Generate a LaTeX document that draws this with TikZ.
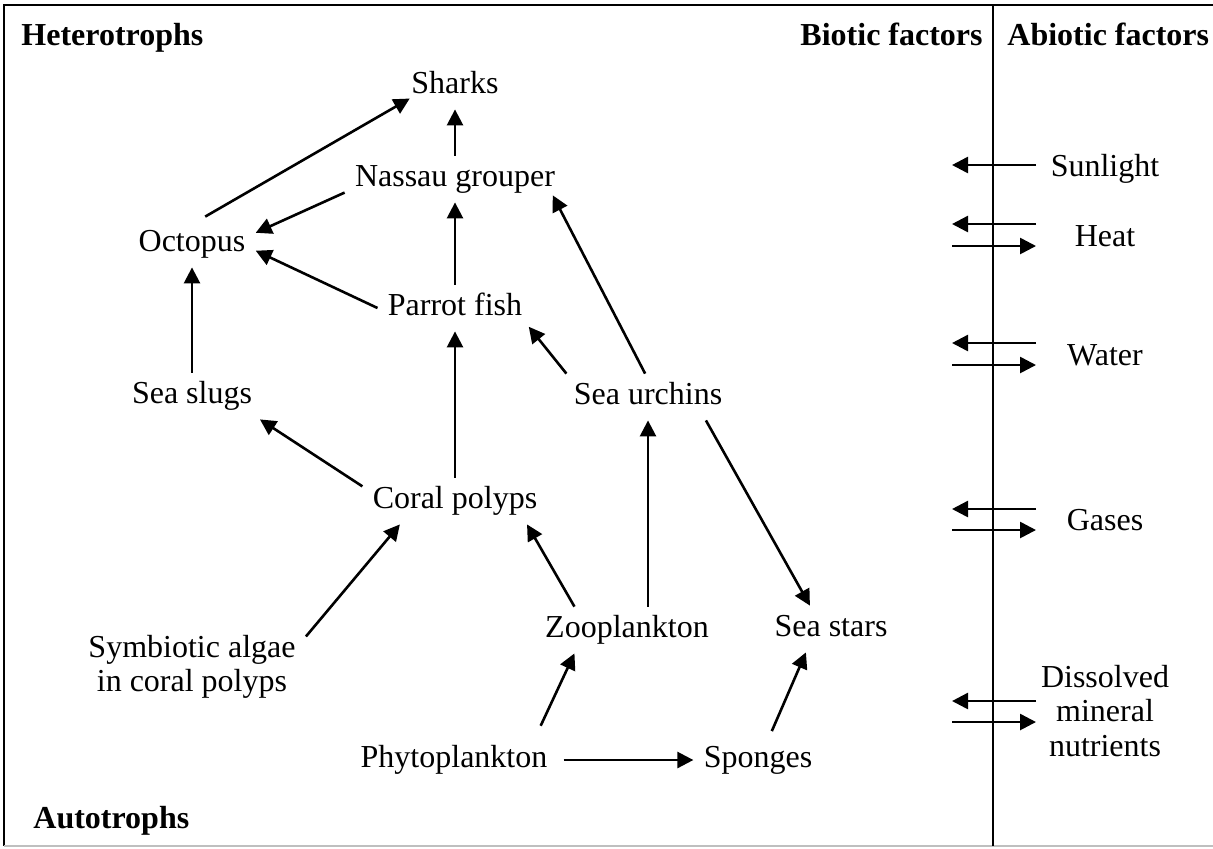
\documentclass[tikz,border=0pt]{standalone}
\usepackage{fontspec}
\setmainfont{Liberation Serif}
\usetikzlibrary{arrows.meta,calc}

\begin{document}
\begin{tikzpicture}[x=0.5pt,y=-0.5pt,
    org/.style={font=\fontsize{16}{17.3}\selectfont,text height=10.5pt,text depth=3.5pt,inner xsep=5pt,inner ysep=4.5pt},
    multi/.style={font=\fontsize{16}{17.3}\selectfont,align=center,inner xsep=5pt,inner ysep=4.5pt},
    head/.style={font=\fontsize{16}{17.3}\selectfont\bfseries,inner sep=0pt},
    feed/.style={-{Triangle[length=8pt,width=8pt]},line width=1.3pt},
    frame/.style={line width=1pt}
  ]
  \useasboundingbox (0,0) rectangle (1213,848);
  \draw[frame] (1213,5) -- (4,5) -- (4,846);
  \draw[frame,gray!50] (4,846) -- (1213,846);
  \draw[frame] (993,5) -- (993,846);

  \node[head,anchor=base west] (het)  at (21,45)   {Heterotrophs};
  \node[head,anchor=base west] (aut)  at (33,828)  {Autotrophs};
  \node[head,anchor=base east] (bio)  at (983,45)  {Biotic factors};
  \node[head,anchor=base west] (abio) at (1007,45) {Abiotic factors};

  \node[org]   (shk) at (455,86)  {Sharks};
  \node[org]   (nas) at (455,179) {Nassau grouper};
  \node[org]   (oct) at (192,244) {Octopus};
  \node[org]   (par) at (455,308) {Parrot fish};
  \node[org]   (slg) at (192,396) {Sea slugs};
  \node[org]   (urc) at (648,397) {Sea urchins};
  \node[org]   (cor) at (455,501) {Coral polyps};
  \node[multi] (sym) at (192,667) {Symbiotic algae\\in coral polyps};
  \node[org]   (zoo) at (627,630) {Zooplankton};
  \node[org]   (sst) at (831,629) {Sea stars};
  \node[org]   (phy) at (454,760) {Phytoplankton};
  \node[org]   (spo) at (758,760) {Sponges};

  \draw[feed,shorten <=4pt,shorten >=-5pt] (oct.75) -- (shk.198);
  \draw[feed] (nas) -- (shk);
  \draw[feed] (nas.187) -- (oct.10);
  \draw[feed] (par) -- (nas);
  \draw[feed] (par.west) -- (oct.-6);
  \draw[feed] (slg) -- (oct);
  \draw[feed] (cor) -- (par);
  \draw[feed,shorten >=-3pt] (urc.164) -- (par.south east);
  \draw[feed,shorten >=-4pt] (urc.97) -- (nas.-13);
  \draw[feed] (cor.171) -- (slg.-19);
  \draw[feed] (sym.15) -- (cor.-157);
  \draw[feed] (zoo.156) -- (cor.-18);
  \draw[feed] (urc.south |- zoo.north) -- (urc.south);
  \draw[feed] (urc.-22) -- (sst.132);
  \draw[feed,shorten <=6pt] (phy.16) -- (zoo.-156);
  \draw[feed,shorten <=3pt] (spo.64) -- (sst.-137);
  \draw[feed,shorten <=3pt] (phy) -- (spo);

  \node[org]   (sun)  at (1105,169) {Sunlight};
  \node[org]   (heat) at (1105,239) {Heat};
  \node[org]   (wat)  at (1105,358) {Water};
  \node[org]   (gas)  at (1105,523) {Gases};
  \node[multi] (dis)  at (1105,711) {Dissolved\\mineral\\nutrients};

  \coordinate (sunA)  at (1036,165); \coordinate (sunB)  at (952,165);
  \coordinate (heatA) at (1036,224); \coordinate (heatB) at (952,224);
  \coordinate (heatC) at (952,246);  \coordinate (heatD) at (1036,246);
  \coordinate (watA)  at (1036,343); \coordinate (watB)  at (952,343);
  \coordinate (watC)  at (952,365);  \coordinate (watD)  at (1036,365);
  \coordinate (gasA)  at (1036,509); \coordinate (gasB)  at (952,509);
  \coordinate (gasC)  at (952,530);  \coordinate (gasD)  at (1036,530);
  \coordinate (disA)  at (1036,701); \coordinate (disB)  at (952,701);
  \coordinate (disC)  at (952,722);  \coordinate (disD)  at (1036,722);
  \draw[feed] (sunA) -- (sunB);
  \draw[feed] (heatA) -- (heatB); \draw[feed] (heatC) -- (heatD);
  \draw[feed] (watA) -- (watB);   \draw[feed] (watC) -- (watD);
  \draw[feed] (gasA) -- (gasB);   \draw[feed] (gasC) -- (gasD);
  \draw[feed] (disA) -- (disB);   \draw[feed] (disC) -- (disD);
\end{tikzpicture}
\end{document}
